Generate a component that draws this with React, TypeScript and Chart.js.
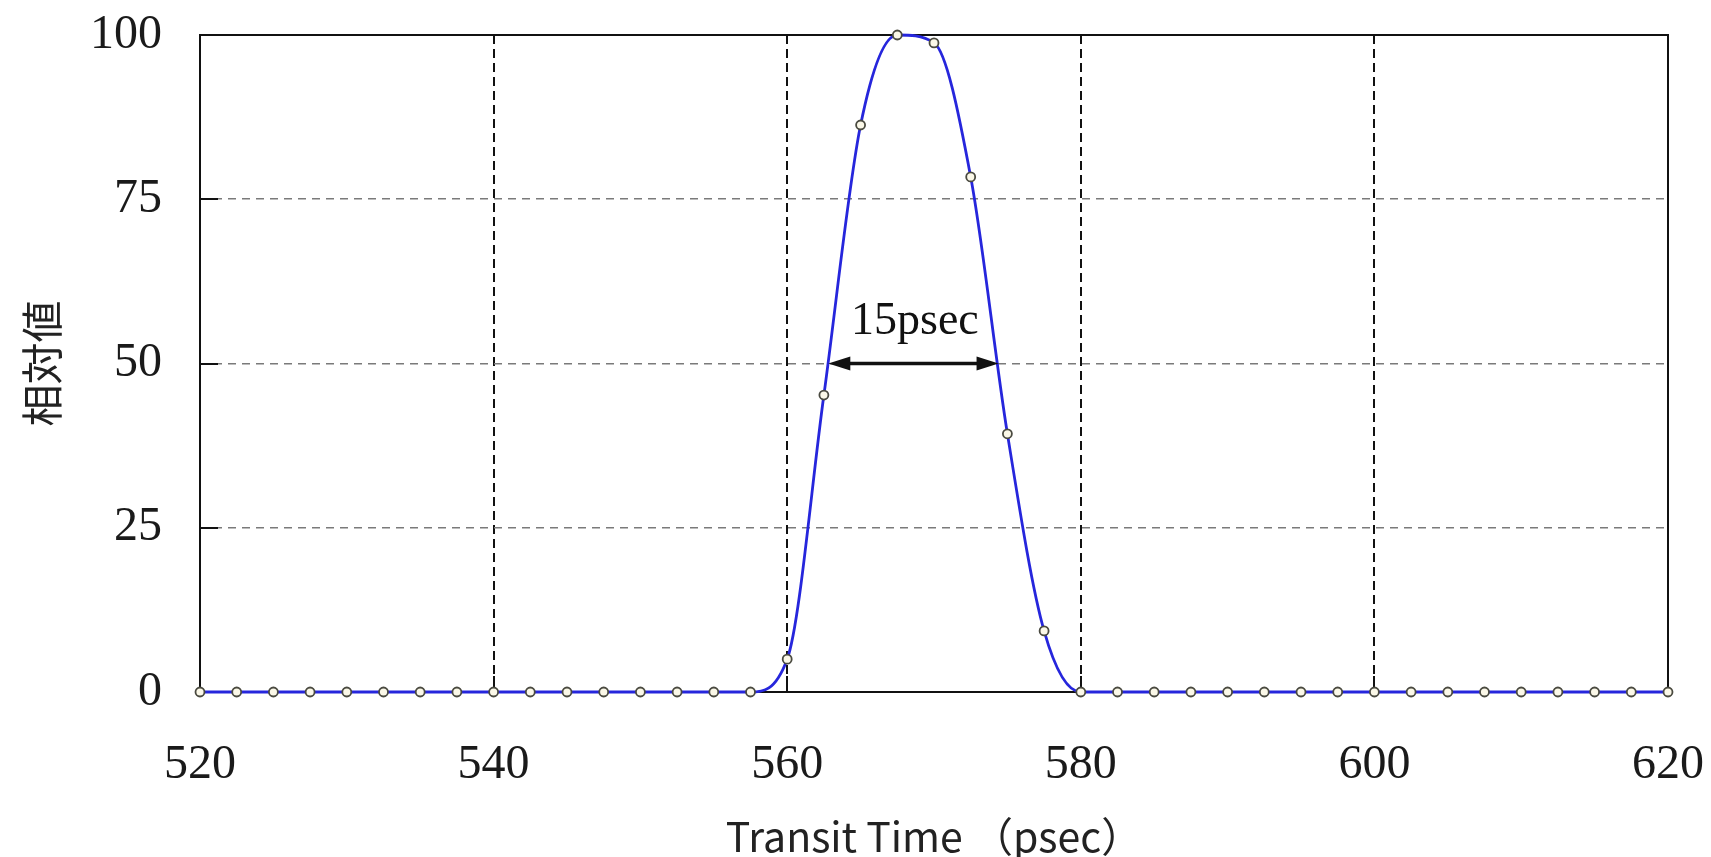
import { useEffect, useRef } from 'react';
import { Chart, registerables } from 'chart.js';

Chart.register(...registerables);

const transitTimes = [
  520, 522.5, 525, 527.5, 530, 532.5, 535, 537.5, 540, 542.5,
  545, 547.5, 550, 552.5, 555, 557.5, 560, 562.5, 565, 567.5,
  570, 572.5, 575, 577.5, 580, 582.5, 585, 587.5, 590, 592.5,
  595, 597.5, 600, 602.5, 605, 607.5, 610, 612.5, 615, 617.5, 620,
];
const relativeValues = [
  0, 0, 0, 0, 0, 0, 0, 0, 0, 0,
  0, 0, 0, 0, 0, 0, 5.0, 45.2, 86.3, 100,
  98.8, 78.4, 39.3, 9.3, 0, 0, 0, 0, 0, 0,
  0, 0, 0, 0, 0, 0, 0, 0, 0, 0, 0,
];
const xTickValues = [520, 540, 560, 580, 600, 620];
const yTickValues = [0, 25, 50, 75, 100];
const xTitle = 'Transit Time （psec）';
const yTitle = '相対値';
const fwhmLabel = '15psec';
const fwhmStart = 562.8;
const fwhmEnd = 574.4;
const fwhmLevel = 50;
const fwhmLabelX = 568.7;
const fwhmLabelY = 56.3;

const SERIF = '"Liberation Serif", "Times New Roman", serif';
const GOTHIC = '"Noto Sans CJK JP", "Noto Sans", sans-serif';

const overlayPlugin = {
  id: 'overlay',
  beforeDatasetsDraw(chart: any) {
    const { ctx, chartArea: a, scales } = chart;
    const x = scales.x;
    const y = scales.y;
    ctx.save();
    ctx.setLineDash([]);
    ctx.strokeStyle = '#111';
    ctx.lineWidth = 2;
    ctx.strokeRect(a.left, a.top, a.right - a.left, a.bottom - a.top);
    ctx.beginPath();
    for (const v of yTickValues) {
      const py = Math.round(y.getPixelForValue(v));
      ctx.moveTo(a.left, py);
      ctx.lineTo(a.left + 18, py);
    }
    for (const v of xTickValues) {
      const px = Math.round(x.getPixelForValue(v));
      ctx.moveTo(px, a.bottom);
      ctx.lineTo(px, a.bottom - 16);
    }
    ctx.stroke();
    ctx.restore();
  },
  afterDatasetsDraw(chart: any) {
    const { ctx, scales } = chart;
    const x = scales.x;
    const y = scales.y;
    const sx = x.getPixelForValue(fwhmStart);
    const ex = x.getPixelForValue(fwhmEnd);
    const py = y.getPixelForValue(fwhmLevel);
    const hl = 22;
    const hw = 7;
    ctx.save();
    ctx.setLineDash([]);
    ctx.strokeStyle = '#111';
    ctx.fillStyle = '#111';
    ctx.lineWidth = 3.5;
    ctx.beginPath();
    ctx.moveTo(sx + hl - 2, py);
    ctx.lineTo(ex - hl + 2, py);
    ctx.stroke();
    ctx.beginPath();
    ctx.moveTo(sx, py);
    ctx.lineTo(sx + hl, py - hw);
    ctx.lineTo(sx + hl, py + hw);
    ctx.closePath();
    ctx.fill();
    ctx.beginPath();
    ctx.moveTo(ex, py);
    ctx.lineTo(ex - hl, py - hw);
    ctx.lineTo(ex - hl, py + hw);
    ctx.closePath();
    ctx.fill();
    ctx.font = `46px ${SERIF}`;
    ctx.textAlign = 'center';
    ctx.textBaseline = 'middle';
    ctx.fillStyle = '#111';
    ctx.fillText(fwhmLabel, x.getPixelForValue(fwhmLabelX), y.getPixelForValue(fwhmLabelY));
    ctx.restore();
  },
  afterDraw(chart: any) {
    const { ctx, chartArea: a } = chart;
    ctx.save();
    ctx.fillStyle = '#222';
    ctx.textAlign = 'center';
    ctx.textBaseline = 'middle';
    ctx.font = `41px ${GOTHIC}`;
    ctx.fillText(xTitle, (a.left + a.right) / 2, 836);
    ctx.translate(42, (a.top + a.bottom) / 2);
    ctx.rotate(-Math.PI / 2);
    ctx.font = `42px ${GOTHIC}`;
    ctx.fillText(yTitle, 0, 0);
    ctx.restore();
  },
};

export default function App() {
  const canvasRef = useRef<HTMLCanvasElement | null>(null);

  useEffect(() => {
    const canvas = canvasRef.current;
    if (!canvas) return;
    const points = transitTimes.map((t, i) => ({ x: t, y: relativeValues[i] }));
    const chart = new Chart(canvas, {
      type: 'line',
      data: {
        datasets: [
          {
            data: points,
            borderColor: '#2626dc',
            borderWidth: 2.8,
            cubicInterpolationMode: 'monotone',
            pointRadius: 4.5,
            pointBorderWidth: 1.8,
            pointBorderColor: '#4a4a40',
            pointBackgroundColor: '#fbf8e8',
            fill: false,
            clip: 6,
          },
        ],
      },
      options: {
        responsive: true,
        maintainAspectRatio: false,
        animation: false,
        events: [],
        layout: { padding: { left: 0, top: 35, right: 43, bottom: 0 } },
        plugins: {
          legend: { display: false },
          tooltip: { enabled: false },
        },
        scales: {
          x: {
            type: 'linear',
            min: 520,
            max: 620,
            afterBuildTicks: (scale: any) => {
              scale.ticks = xTickValues.map((v) => ({ value: v }));
            },
            afterFit: (scale: any) => {
              scale.height = 165;
              scale.paddingLeft = 0;
              scale.paddingRight = 0;
            },
            ticks: {
              padding: 45,
              color: '#1a1a1a',
              font: { family: SERIF, size: 48, lineHeight: 1.2 },
              maxRotation: 0,
              autoSkip: false,
            },
            grid: {
              drawTicks: false,
              lineWidth: 2,
              color: (c: any) => {
                const v = c.tick ? c.tick.value : null;
                return v !== null && v > 520 && v < 620 ? '#111' : 'rgba(0,0,0,0)';
              },
            },
            border: { display: false, dash: [9, 5] },
          },
          y: {
            type: 'linear',
            min: 0,
            max: 100,
            afterBuildTicks: (scale: any) => {
              scale.ticks = yTickValues.map((v) => ({ value: v }));
            },
            afterFit: (scale: any) => {
              scale.width = 200;
              scale.paddingTop = 0;
              scale.paddingBottom = 0;
            },
            ticks: {
              padding: 38,
              color: '#1a1a1a',
              font: { family: SERIF, size: 48 },
            },
            grid: {
              drawTicks: false,
              lineWidth: 1.6,
              color: (c: any) => {
                const v = c.tick ? c.tick.value : null;
                return v !== null && v > 0 && v < 100 ? '#7a7a7a' : 'rgba(0,0,0,0)';
              },
            },
            border: { display: false, dash: [8, 6] },
          },
        },
      },
      plugins: [overlayPlugin],
    } as any);
    return () => {
      chart.destroy();
    };
  }, []);

  return (
    <div style={{ position: 'fixed', left: 0, top: 0, width: 1711, height: 857, background: '#fff' }}>
      <canvas ref={canvasRef} />
    </div>
  );
}
